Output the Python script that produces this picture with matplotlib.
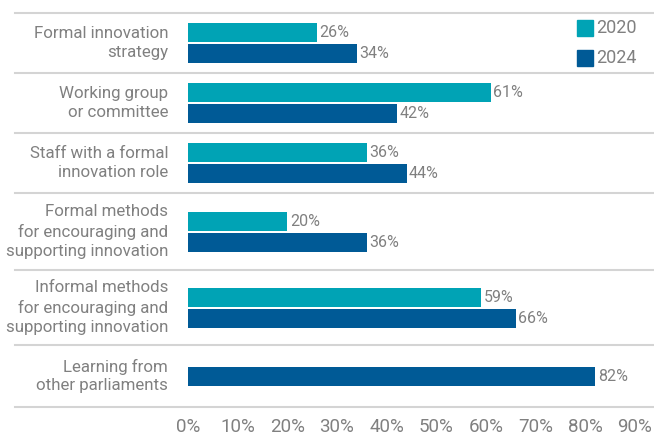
import matplotlib
matplotlib.use("Agg")
import matplotlib.pyplot as plt
from matplotlib.transforms import blended_transform_factory
from matplotlib.patches import Rectangle
import numpy as np

categories = [
    "Formal innovation\nstrategy",
    "Working group\nor committee",
    "Staff with a formal\ninnovation role",
    "Formal methods\nfor encouraging and\nsupporting innovation",
    "Informal methods\nfor encouraging and\nsupporting innovation",
    "Learning from\nother parliaments",
]
values_2020 = [26, 61, 36, 20, 59, None]
values_2024 = [34, 42, 44, 36, 66, 82]
series_names = ["2020", "2024"]
xticks = [0, 10, 20, 30, 40, 50, 60, 70, 80, 90]
xtick_labels = [f"{t}%" for t in xticks]

C2020 = "#00A3B5"
C2024 = "#005A96"
TXT = "#808080"
GRID = "#d4d4d4"
FONT = ["Roboto", "DejaVu Sans"]
plt.rcParams["font.family"] = FONT
WT = "normal"

W, H = 654, 436
fig = plt.figure(figsize=(W / 100, H / 100), dpi=100)
top_px, bot_px, left_px, right_px = 13, 407, 188, 635
ax = fig.add_axes([left_px / W, 1 - bot_px / H, (right_px - left_px) / W, (bot_px - top_px) / H])

# group heights (layout), proportional to label lines
group_h = np.array([60, 60, 60, 77, 75, 62], dtype=float)
bounds = np.concatenate([[0], np.cumsum(group_h)])
centers = (bounds[:-1] + bounds[1:]) / 2
total = bounds[-1]
ax.set_ylim(total, 0)
ax.set_xlim(0, 90)

bh = 19
off = 10.5
VFS = 11.5
for i, (a, b) in enumerate(zip(values_2020, values_2024)):
    if a is None:
        ax.barh(centers[i], b, height=bh, color=C2024)
        ax.text(b + 0.5, centers[i], f"{b}%", va="center", ha="left", color=TXT, fontsize=VFS, fontweight=WT)
    else:
        ax.barh(centers[i] - off, a, height=bh, color=C2020)
        ax.barh(centers[i] + off, b, height=bh, color=C2024)
        ax.text(a + 0.5, centers[i] - off, f"{a}%", va="center", ha="left", color=TXT, fontsize=VFS, fontweight=WT)
        ax.text(b + 0.5, centers[i] + off, f"{b}%", va="center", ha="left", color=TXT, fontsize=VFS, fontweight=WT)

trans = blended_transform_factory(fig.transFigure, ax.transData)
for yb in bounds:
    ax.plot([15 / W, 1.0], [yb, yb], transform=trans, color=GRID, lw=1.5, clip_on=False, zorder=0)

for i, lab in enumerate(categories):
    ax.text(168 / W, centers[i], lab, transform=trans, ha="right", va="center",
            multialignment="right", color=TXT, fontsize=12.2, linespacing=1.32, fontweight=WT)

ax.set_xticks(xticks)
ax.set_xticklabels(xtick_labels, color=TXT, fontsize=13.5, fontweight=WT)
ax.tick_params(axis="x", length=0, pad=8)
ax.set_yticks([])
for s in ax.spines.values():
    s.set_visible(False)

# legend
for j, (name, col) in enumerate(zip(series_names, [C2020, C2024])):
    y0 = 20 + j * 30
    fig.patches.append(Rectangle((577 / W, 1 - (y0 + 16) / H), 16 / W, 16 / H,
                                 transform=fig.transFigure, color=col))
    fig.text(596 / W, 1 - (y0 + 8) / H, name, ha="left", va="center", color=TXT, fontsize=13, fontweight=WT)

fig.savefig("out.png", dpi=100)
